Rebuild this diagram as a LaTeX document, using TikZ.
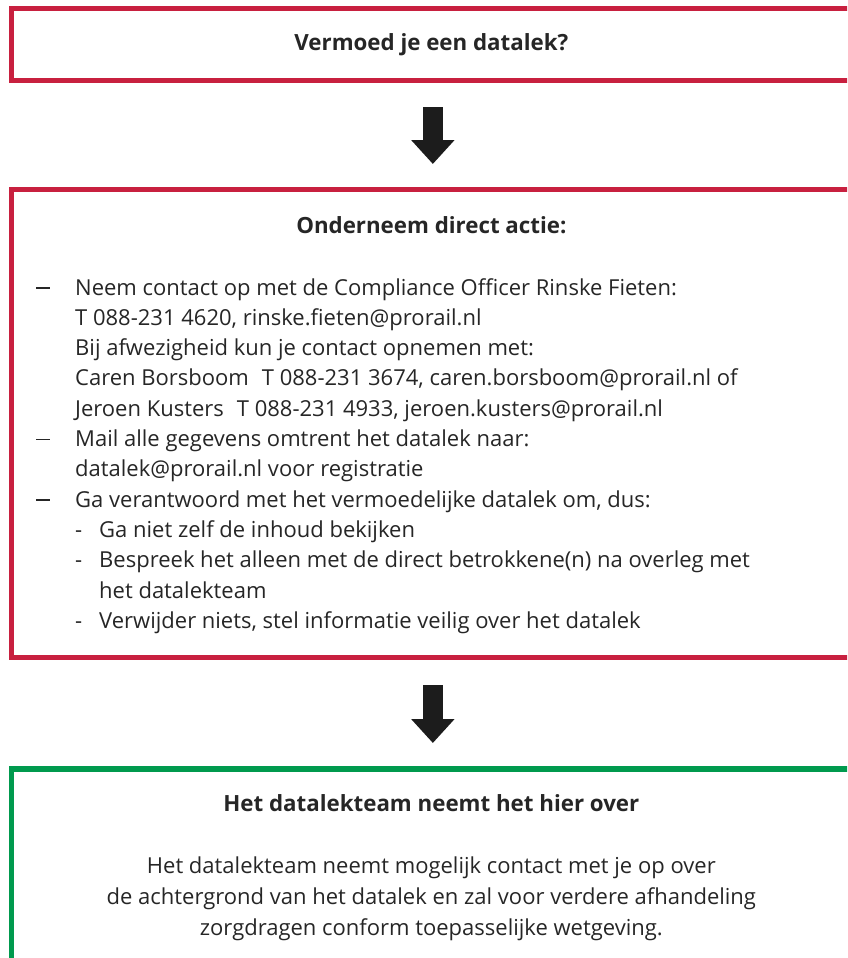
\documentclass[tikz,border=0pt]{standalone}
\usepackage{fontspec}
\setmainfont{Open Sans}
\usetikzlibrary{positioning,arrows.meta}

\definecolor{prorood}{HTML}{C8203F}
\definecolor{progroen}{HTML}{009A4E}
\definecolor{tekstgrijs}{HTML}{262626}
\definecolor{pijlzwart}{HTML}{1C1C1C}

\newcommand{\streep}{\makebox[39pt][l]{\raisebox{6.2pt}{\rule{13.5pt}{1.8pt}}}}
\newcommand{\inspring}{\hspace*{39pt}}
\newcommand{\punt}{\makebox[24pt][l]{-}}
\newcommand{\tussen}{\hspace{13pt}}

\begin{document}
\begin{tikzpicture}[
    x=1pt, y=-1pt,
    kader/.style={rectangle, draw, line width=5.3pt, minimum width=839.3pt, outer sep=0pt, inner sep=0pt, anchor=north west},
    rood/.style={kader, draw=prorood},
    groen/.style={kader, draw=progroen},
    kop/.style={font=\fontsize{22.3}{26}\selectfont\bfseries, text=tekstgrijs, inner sep=0pt},
    tekst/.style={font=\fontsize{22}{30.3}\selectfont, text=tekstgrijs, inner sep=0pt},
    pijl/.style={line width=20pt, draw=pijlzwart, -{Triangle[width=42pt, length=24pt]}}
]
\useasboundingbox (0,0) rectangle (847,958);
\clip (0,0) rectangle (847,958);

% Kaders
\node[rood, minimum height=72.2pt] (vraag) at (11.7,8.3) {};
\node[rood, minimum height=468pt] (actie) at (11.7,189.5) {};
\node[groen, minimum height=220pt] (team) at (11.7,769) {};

% Teksten
\node[kop] (vraagkop) at (vraag.center) {Vermoed je een datalek?};
\node[kop, below=26.5pt of actie.north] (actiekop) {Onderneem direct actie:};
\node[tekst, align=left, anchor=north west] (lijst) at (36,278) {%
\streep Neem contact op met de Compliance Officer Rinske Fieten:\\
\inspring T 088-231 4620, rinske.fieten@prorail.nl\\
\inspring Bij afwezigheid kun je contact opnemen met:\\
\inspring Caren Borsboom\tussen T 088-231 3674, caren.borsboom@prorail.nl of\\
\inspring Jeroen Kusters\tussen T 088-231 4933, jeroen.kusters@prorail.nl\\
\streep Mail alle gegevens omtrent het datalek naar:\\
\inspring datalek@prorail.nl voor registratie\\
\streep Ga verantwoord met het vermoedelijke datalek om, dus:\\
\inspring\punt Ga niet zelf de inhoud bekijken\\
\inspring\punt Bespreek het alleen met de direct betrokkene(n) na overleg met\\
\inspring\hspace*{24pt}het datalekteam\\
\inspring\punt Verwijder niets, stel informatie veilig over het datalek};
\node[kop, below=25.5pt of team.north] (teamkop) {Het datalekteam neemt het hier over};
\node[tekst, font=\fontsize{22}{31}\selectfont, align=center, below=44.2pt of teamkop] (teamtekst) {Het datalekteam neemt mogelijk contact met je op over\\
de achtergrond van het datalek en zal voor verdere afhandeling\\
zorgdragen conform toepasselijke wetgeving.};

% Pijlen
\draw[pijl] ([xshift=1.5pt, yshift=-26.5pt]vraag.south) -- ([xshift=1.5pt, yshift=25.5pt]actie.north);
\draw[pijl] ([xshift=1.5pt, yshift=-27.5pt]actie.south) -- ([xshift=1.5pt, yshift=26pt]team.north);

\end{tikzpicture}
\end{document}
